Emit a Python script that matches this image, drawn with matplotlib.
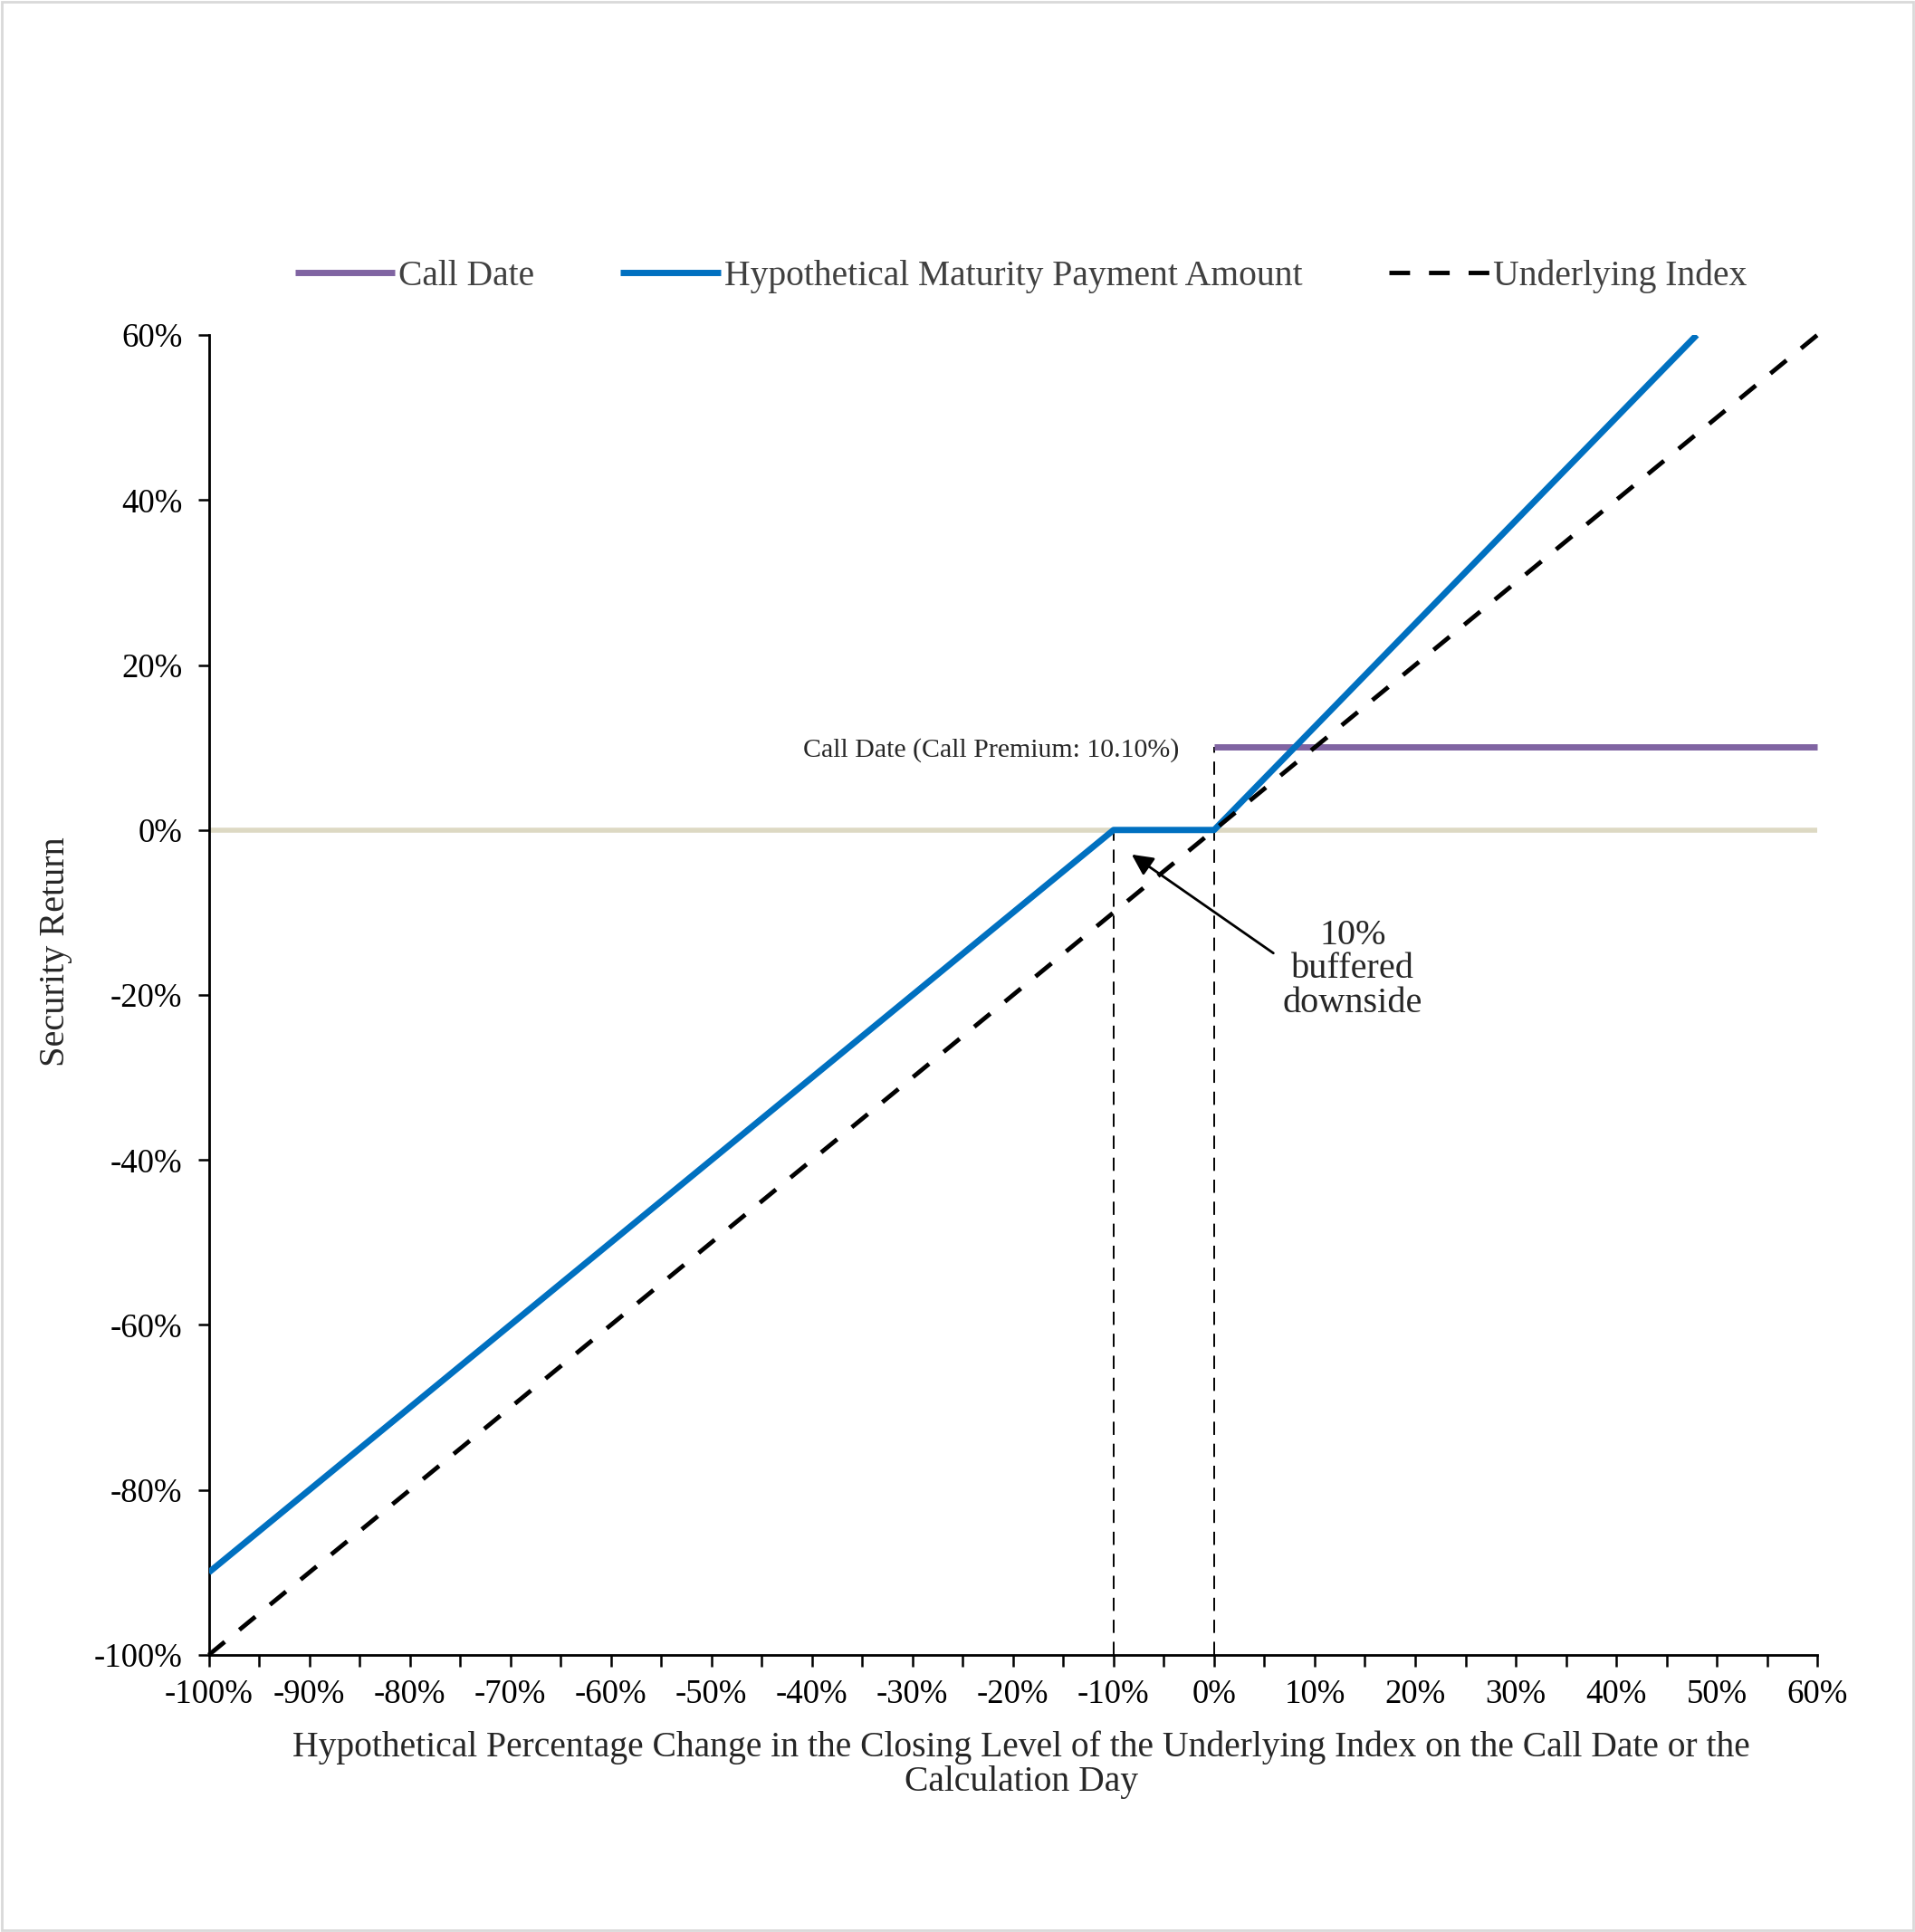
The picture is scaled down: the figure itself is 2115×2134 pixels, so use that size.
import matplotlib
matplotlib.use("Agg")
import matplotlib.pyplot as plt
from matplotlib.ticker import MultipleLocator, FuncFormatter
from matplotlib.patches import Rectangle

plt.rcParams['font.family'] = ['Liberation Serif', 'DejaVu Serif']

# datos
index_x = [-1.0, 0.6]
index_y = [-1.0, 0.6]

payment_x = [-1.0, -0.9, -0.8, -0.7, -0.6, -0.5, -0.4, -0.3, -0.2, -0.1,
             0.0, 0.1, 0.2, 0.3, 0.4, 0.48]
payment_y = [-0.9, -0.8, -0.7, -0.6, -0.5, -0.4, -0.3, -0.2, -0.1, 0.0,
             0.0, 0.125, 0.25, 0.375, 0.5, 0.6]

call_x = [0.0, 0.6]
call_y = [0.101, 0.101]

buffer_level = -0.1
call_premium = 0.101

BLUE = '#0070C0'
PURPLE = '#8064A2'
BEIGE = '#DDD9C3'
TXT = '#262626'

fig = plt.figure(figsize=(21.15, 21.34), dpi=100)
ax = fig.add_axes([0.109, 0.1434, 0.84, 0.6832])

ax.axhline(0, color=BEIGE, lw=4, zorder=1)
ax.plot([buffer_level, buffer_level], [-1.0, 0.0], color='black', lw=1.4,
        dashes=(7.5, 5), zorder=2)
ax.plot([0.0, 0.0], [-1.0, call_premium], color='black', lw=1.4,
        dashes=(7.5, 5), zorder=2)

l_call, = ax.plot(call_x, call_y, color=PURPLE, lw=5, zorder=3,
                  solid_capstyle='butt', clip_on=False, label='Call Date')
l_pay, = ax.plot(payment_x, payment_y, color=BLUE, lw=5, zorder=4,
                 solid_capstyle='butt', label='Hypothetical Maturity Payment Amount')
l_idx, = ax.plot(index_x, index_y, color='black', lw=3.5, dashes=(4.7, 4.3),
                 zorder=5, clip_on=False, label='Underlying Index')

ax.set_xlim(-1.0, 0.6)
ax.set_ylim(-1.0, 0.6)

pct = FuncFormatter(lambda v, p: f"{v*100:.0f}%")
ax.xaxis.set_major_locator(MultipleLocator(0.1))
ax.xaxis.set_minor_locator(MultipleLocator(0.05))
ax.yaxis.set_major_locator(MultipleLocator(0.2))
ax.xaxis.set_major_formatter(pct)
ax.yaxis.set_major_formatter(pct)

for s in ['top', 'right']:
    ax.spines[s].set_visible(False)
for s in ['left', 'bottom']:
    ax.spines[s].set_linewidth(2)
ax.tick_params(axis='both', which='both', direction='out', length=9, width=1.8,
               labelsize=26.5, colors='black')
ax.tick_params(axis='x', pad=10)
ax.tick_params(axis='y', pad=12)

ax.set_xlabel("Hypothetical Percentage Change in the Closing Level of the Underlying Index on the Call Date or the\nCalculation Day",
              fontsize=28.5, color=TXT, linespacing=1.05)
ax.xaxis.set_label_coords(0.505, -0.057)
ax.set_ylabel("Security Return", fontsize=29, color=TXT)
ax.yaxis.set_label_coords(-0.085, 0.533)

ax.text(-0.035, 0.097, "Call Date (Call Premium: 10.10%)", fontsize=21.5,
        ha='right', va='center', color=TXT)
ax.annotate("", xy=(-0.084, -0.028), xytext=(0.061, -0.151),
            arrowprops=dict(arrowstyle='-|>', color='black', lw=2,
                            mutation_scale=35))
ax.text(0.138, -0.169, "10%\nbuffered\ndownside", fontsize=29, ha='center',
        va='center', color=TXT, linespacing=1.02)

leg = fig.legend(handles=[l_call, l_pay, l_idx], loc='center',
                 bbox_to_anchor=(0.533, 0.857), ncol=3, frameon=False,
                 fontsize=28.5, handlelength=2.8, handletextpad=0.1,
                 columnspacing=2.4)
for t in leg.get_texts():
    t.set_color('#404040')

fig.add_artist(Rectangle((0.001, 0.001), 0.998, 0.998, transform=fig.transFigure,
                         fill=False, edgecolor='#D9D9D9', lw=2))

fig.savefig("out.png", dpi=100, facecolor='white')
